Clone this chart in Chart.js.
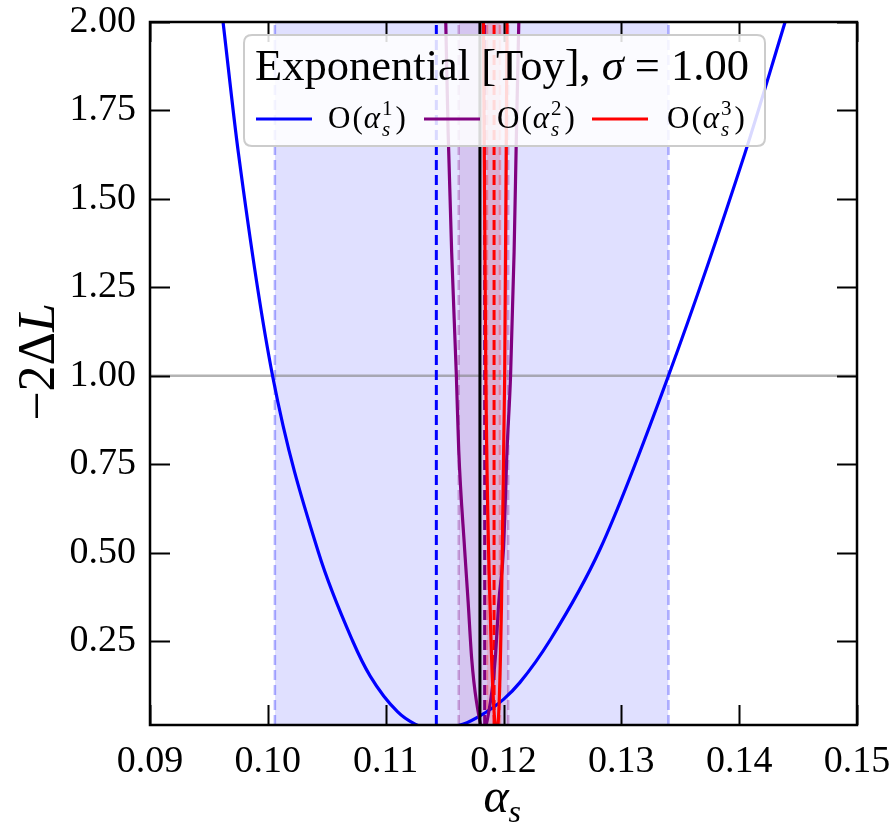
<!DOCTYPE html>
<html><head><meta charset="utf-8">
<script src="https://cdn.jsdelivr.net/npm/chart.js@4.4.1/dist/chart.umd.min.js"></script>
<style>html,body{margin:0;padding:0;background:#fff;}canvas{display:block;}</style>
</head><body>
<canvas id="c" width="893" height="830"></canvas>
<script>
// ---------------- data ----------------
const xTicks = [0.09, 0.10, 0.11, 0.12, 0.13, 0.14, 0.15];
const yTicks = [0.25, 0.50, 0.75, 1.00, 1.25, 1.50, 1.75, 2.00];
const xRange = [0.09, 0.15];
const yRange = [0.0125, 2.00];

// O(alpha_s^1)
const order1Alpha = [0.0962, 0.0975, 0.1004, 0.1043, 0.1072, 0.1087, 0.1110, 0.1125, 0.1142, 0.1166, 0.1180, 0.1200, 0.1214, 0.1240, 0.1282, 0.1340, 0.1405, 0.1439];
const order1Loss  = [2.00,   1.63,   1.00,   0.50,   0.25,   0.15,   0.05,   0.015,  0.00,   0.015,  0.038,  0.085,  0.133,  0.255,  0.51,   1.00,   1.63,   2.00];
// O(alpha_s^2)
const order2Alpha = [0.1151, 0.1153, 0.1156, 0.1160, 0.1162, 0.1167, 0.1170, 0.1173, 0.1177, 0.1183, 0.1189, 0.1193, 0.1196, 0.1200, 0.1203, 0.1206, 0.1209, 0.1211, 0.1213];
const order2Loss  = [2.00,   1.69,   1.35,   1.00,   0.79,   0.51,   0.36,   0.20,   0.08,   0.00,   0.08,   0.20,   0.36,   0.51,   0.79,   1.00,   1.35,   1.69,   2.00];
// O(alpha_s^3)
const order3Alpha = [0.1183, 0.1185, 0.1189, 0.1192, 0.1194, 0.1196, 0.1198, 0.1201, 0.1203];
const order3Loss  = [2.00,   1.00,   0.30,   0.05,   0.00,   0.05,   0.30,   1.00,   2.00];

const bestFit      = [0.1143, 0.1184, 0.1192];
const intervalLow  = [0.1006, 0.1162, 0.1186];
const intervalHigh = [0.1340, 0.1204, 0.1197];
const truthAlpha = 0.118;
const referenceLevel = 1.00;
const orderLabels = ['1', '2', '3'];
const legendTitle = ['Exponential [Toy], ', 'σ', ' = 1.00'];

// ---------------- styling ----------------
const colors = [[0, 0, 255], [128, 0, 128], [255, 0, 0]];
const rgba = (c, a) => `rgba(${c[0]},${c[1]},${c[2]},${a})`;
const SERIF = '"Liberation Serif", "DejaVu Serif", serif';

const curves = [[order1Alpha, order1Loss], [order2Alpha, order2Loss], [order3Alpha, order3Loss]];
const datasets = [];
const curveOrder = [20, 19, 17];
for (let i = 0; i < 3; i++) {
  const c = colors[i];
  datasets.push({ data: [{x: intervalLow[i], y: yRange[1]}, {x: intervalHigh[i], y: yRange[1]}],
    fill: 'start', backgroundColor: rgba(c, 0.12), borderWidth: 0, pointRadius: 0, order: 100 - i });
  for (const e of [intervalLow[i], intervalHigh[i]]) {
    datasets.push({ data: [{x: e, y: yRange[0]}, {x: e, y: yRange[1]}],
      borderColor: rgba(c, 0.3), borderWidth: 2.5, borderDash: [10, 5], pointRadius: 0, fill: false, order: 60 - i });
  }
  datasets.push({ data: [{x: bestFit[i], y: yRange[0]}, {x: bestFit[i], y: yRange[1]}],
    borderColor: rgba(c, 1), borderWidth: 3, borderDash: [10, 5], pointRadius: 0, fill: false, order: 40 - i });
  datasets.push({ data: curves[i][0].map((x, k) => ({x, y: curves[i][1][k]})),
    borderColor: rgba(c, 1), borderWidth: 3.2, pointRadius: 0, fill: false,
    cubicInterpolationMode: 'monotone', order: curveOrder[i] });
}
datasets.push({ data: [{x: xRange[0], y: referenceLevel}, {x: xRange[1], y: referenceLevel}],
  borderColor: 'rgba(128,128,128,0.6)', borderWidth: 2.5, pointRadius: 0, fill: false, order: 45 });
datasets.push({ data: [{x: truthAlpha, y: yRange[0]}, {x: truthAlpha, y: yRange[1]}],
  borderColor: '#000', borderWidth: 3, pointRadius: 0, fill: false, order: 18 });

function drawRuns(ctx, x, y, runs) {
  for (const r of runs) {
    ctx.font = `${r.italic ? 'italic ' : ''}${r.size}px ${SERIF}`;
    ctx.fillText(r.t, x, y + (r.dy || 0));
    x += ctx.measureText(r.t).width + (r.kern || 0);
  }
  return x;
}
function runsWidth(ctx, runs) {
  let w = 0;
  for (const r of runs) { ctx.font = `${r.italic ? 'italic ' : ''}${r.size}px ${SERIF}`; w += ctx.measureText(r.t).width + (r.kern || 0); }
  return w;
}

const decor = {
  id: 'decor',
  afterDraw(chart) {
    const ctx = chart.ctx, a = chart.chartArea, xs = chart.scales.x, ys = chart.scales.y;
    ctx.save();
    // inward ticks
    ctx.strokeStyle = '#000'; ctx.lineWidth = 2;
    const TL = 20;
    ctx.beginPath();
    for (const v of xTicks) {
      const px = Math.round(xs.getPixelForValue(v)) + 0.5;
      ctx.moveTo(px, a.bottom); ctx.lineTo(px, a.bottom - TL);
      ctx.moveTo(px, a.top); ctx.lineTo(px, a.top + TL);
    }
    for (const v of yTicks) {
      const py = Math.round(ys.getPixelForValue(v)) + 0.5;
      ctx.moveTo(a.left, py); ctx.lineTo(a.left + TL, py);
      ctx.moveTo(a.right, py); ctx.lineTo(a.right - TL, py);
    }
    ctx.stroke();
    // frame
    ctx.lineWidth = 2.5;
    ctx.strokeRect(a.left, a.top, a.right - a.left, a.bottom - a.top);

    // legend box
    const L = 244, T = 35, R = 765, B = 146, rad = 8;
    ctx.beginPath();
    ctx.moveTo(L + rad, T); ctx.lineTo(R - rad, T); ctx.quadraticCurveTo(R, T, R, T + rad);
    ctx.lineTo(R, B - rad); ctx.quadraticCurveTo(R, B, R - rad, B);
    ctx.lineTo(L + rad, B); ctx.quadraticCurveTo(L, B, L, B - rad);
    ctx.lineTo(L, T + rad); ctx.quadraticCurveTo(L, T, L + rad, T);
    ctx.closePath();
    ctx.fillStyle = 'rgba(255,255,255,0.85)'; ctx.fill();
    ctx.strokeStyle = '#cccccc'; ctx.lineWidth = 2; ctx.stroke();

    ctx.fillStyle = '#000'; ctx.textBaseline = 'alphabetic'; ctx.textAlign = 'left';
    let fs = 36;
    let titleRuns = [{t: legendTitle[0], size: fs}, {t: legendTitle[1], size: fs, italic: true}, {t: legendTitle[2], size: fs}];
    fs = fs * 494 / runsWidth(ctx, titleRuns);
    titleRuns = titleRuns.map(r => Object.assign({}, r, {size: fs}));
    const tw = runsWidth(ctx, titleRuns);
    drawRuns(ctx, 502 - tw / 2, 80, titleRuns);

    const sampleX = [256, 424, 592], labelX = [328, 497, 667];
    for (let i = 0; i < 3; i++) {
      ctx.strokeStyle = rgba(colors[i], 1); ctx.lineWidth = 3;
      ctx.beginPath(); ctx.moveTo(sampleX[i], 119); ctx.lineTo(sampleX[i] + 56, 119); ctx.stroke();
      ctx.fillStyle = '#000';
      let x = drawRuns(ctx, labelX[i], 128, [{t: 'O', size: 31, kern: 2}, {t: '(', size: 31, kern: 1}, {t: 'α', size: 31, italic: true, kern: 2}]);
      ctx.font = `21px ${SERIF}`;
      ctx.fillText(orderLabels[i], x, 115);
      const w1 = ctx.measureText(orderLabels[i]).width;
      ctx.font = `italic 21px ${SERIF}`;
      ctx.fillText('s', x, 136);
      const w2 = ctx.measureText('s').width;
      x += Math.max(w1, w2) + 3;
      drawRuns(ctx, x, 128, [{t: ')', size: 31}]);
    }

    // axis titles
    ctx.fillStyle = '#000';
    const yl = [{t: '−2Δ', size: 52}, {t: 'L', size: 52, italic: true}];
    ctx.save();
    ctx.translate(54, 362); ctx.rotate(-Math.PI / 2);
    const yw = runsWidth(ctx, yl);
    drawRuns(ctx, -yw / 2, 0, yl);
    ctx.restore();
    const xl = [{t: 'α', size: 48, italic: true}];
    const xw = runsWidth(ctx, xl) + 14;
    let xx = drawRuns(ctx, 503 - xw / 2, 812, xl);
    ctx.font = `italic 32px ${SERIF}`;
    ctx.fillText('s', xx, 822);
    ctx.restore();
  }
};

function zeroPad(s) { s.paddingTop = 0; s.paddingBottom = 0; s.paddingLeft = 0; s.paddingRight = 0; }

new Chart(document.getElementById('c'), {
  type: 'line',
  data: { datasets },
  options: {
    responsive: false, animation: false,
    layout: { padding: { top: 22, right: 36, left: 0, bottom: 0 } },
    plugins: { legend: { display: false }, tooltip: { enabled: false } },
    scales: {
      x: { type: 'linear', min: xRange[0], max: xRange[1],
        grid: { display: false, drawTicks: false }, border: { display: false },
        afterBuildTicks: s => { s.ticks = xTicks.map(v => ({ value: v })); },
        afterFit: s => { s.height = 105; zeroPad(s); },
        ticks: { padding: 14, color: '#000', font: { family: SERIF, size: 38 }, maxRotation: 0, autoSkip: false,
          callback: v => Number(v).toFixed(2) } },
      y: { type: 'linear', min: yRange[0], max: yRange[1],
        grid: { display: false, drawTicks: false }, border: { display: false },
        afterBuildTicks: s => { s.ticks = yTicks.map(v => ({ value: v })); },
        afterFit: s => { s.width = 150; zeroPad(s); },
        ticks: { padding: 14, color: '#000', font: { family: SERIF, size: 38 }, autoSkip: false,
          callback: v => Number(v).toFixed(2) } }
    }
  },
  plugins: [decor]
});
</script>
</body></html>
